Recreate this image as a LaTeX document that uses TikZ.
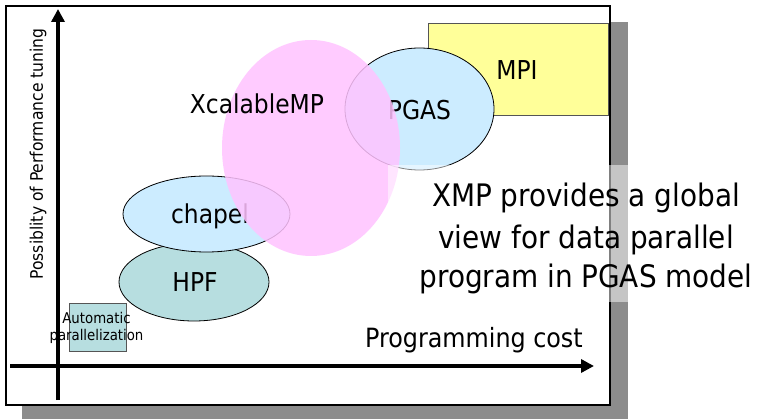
\documentclass[tikz,border=0pt]{standalone}
\usepackage{fontspec}
\setmainfont{DejaVu Sans Condensed}
\usetikzlibrary{shapes.geometric,arrows.meta}
\definecolor{shadowgray}{HTML}{8C8C8C}
\definecolor{mpiyellow}{HTML}{FFFF99}
\definecolor{pgasblue}{HTML}{CCECFF}
\definecolor{hpfteal}{HTML}{B7DEE0}
\definecolor{xmppink}{HTML}{FFC3FF}
\definecolor{edgegray}{HTML}{555555}
\begin{document}
\begin{tikzpicture}[x=1pt,y=-1pt,
  blob/.style={ellipse,draw=black,line width=0.8pt,inner sep=0pt},
  box/.style={rectangle,draw=edgegray,line width=0.8pt,inner sep=0pt},
  bigtxt/.style={font=\fontsize{26}{30}\selectfont},
  axisline/.style={line width=4pt,-{Triangle[length=13pt,width=13pt]}},
  note/.style={font=\fontsize{31}{36}\selectfont,anchor=base}]
\useasboundingbox (0,0) rectangle (757,419);
% shadow and frame
\fill[shadowgray] (22,22) rectangle (628,419);
\draw[line width=1.5pt,fill=white] (6,6) rectangle (610,405);
% axes
\coordinate (ybot) at (58,400);
\coordinate (ytop) at (58,9);
\coordinate (xleft) at (10,366);
\coordinate (xright) at (594,366);
\draw[axisline] (ybot) -- (ytop);
\draw[axisline] (xleft) -- (xright);
\node[rotate=90,font=\fontsize{17.3}{20}\selectfont] (ylab) at (38,154) {Possiblity of Performance tuning};
\node[font=\fontsize{26.5}{30}\selectfont,anchor=base] (xlab) at (474,347) {Programming cost};
% shapes
\node[box,fill=mpiyellow,minimum width=180pt,minimum height=92pt] (mpi) at (518,69) {};
\node[bigtxt] (mpit) at (517,70) {MPI};
\node[blob,fill=pgasblue,minimum width=149pt,minimum height=122pt] (pgas) at (419.5,109) {};
\node[bigtxt] (pgast) at (419.5,110) {PGAS};
\node[blob,fill=hpfteal,minimum width=150pt,minimum height=78pt] (hpf) at (194,282) {};
\node[bigtxt] (hpft) at (195,282) {HPF};
\node[blob,fill=pgasblue,minimum width=167pt,minimum height=76pt] (chapel) at (206.5,214) {};
\node[bigtxt] (chapelt) at (210,216) {chapel};
\node[ellipse,fill=xmppink,fill opacity=0.85,minimum width=178pt,minimum height=216pt,inner sep=0pt] (xmp) at (311,148) {};
\node[bigtxt] (xmpt) at (257,104) {XcalableMP};
\node[box,fill=hpfteal,minimum width=57pt,minimum height=48pt] (auto) at (97.5,327) {};
\node[align=center,font=\fontsize{14.8}{17}\selectfont] (autot) at (96.5,328) {Automatic\\parallelization};
% translucent text box
\fill[white,fill opacity=0.5] (388,165) rectangle (757,302);
\node[note] (n1) at (586,207) {XMP provides a global};
\node[note] (n2) at (586,249) {view for data parallel};
\node[note] (n3) at (586,288) {program in PGAS model};
\end{tikzpicture}
\end{document}
